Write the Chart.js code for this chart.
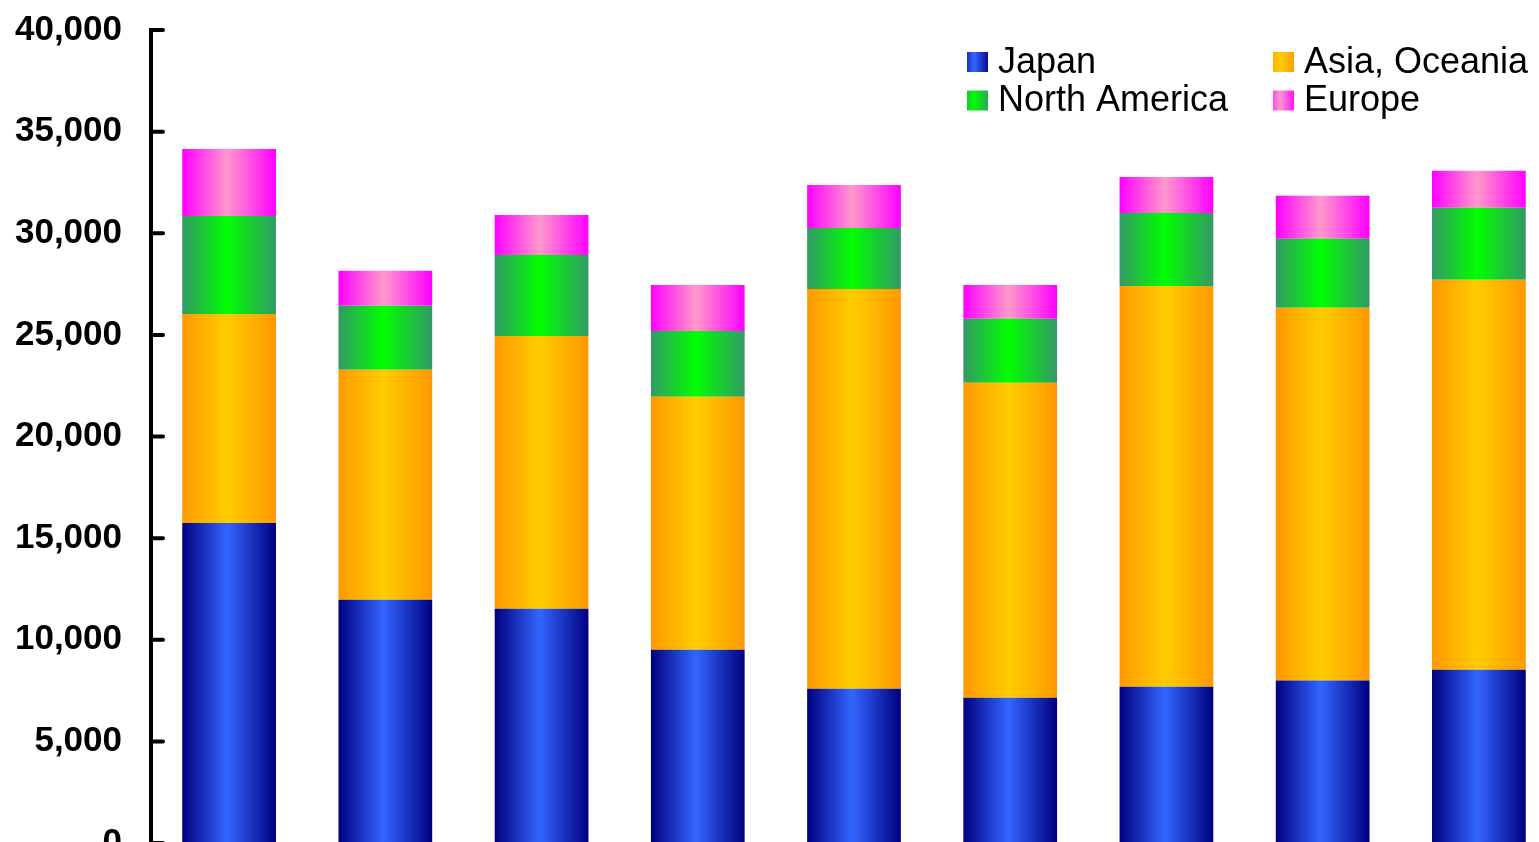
<!DOCTYPE html>
<html>
<head>
<meta charset="utf-8">
<script src="https://cdn.jsdelivr.net/npm/chart.js@4"></script>
<style>
  html, body { margin: 0; padding: 0; background: #fff; overflow: hidden; }
  #wrap { position: absolute; left: 0; top: 0; width: 1557px; height: 893px; }
</style>
</head>
<body>
<div id="wrap"><canvas id="salesChart" width="1557" height="893"></canvas></div>
<script>
const categories = ['2007', '2008', '2009', '2010', '2011', '2012', '2013', '2014', '2015'];

const japan        = [15750, 11970, 11530, 9510, 7590, 7150, 7690, 7990, 8530];
const asiaOceania  = [10280, 11310, 13420, 12440, 19670, 15490, 19720, 18340, 19180];
const northAmerica = [4820, 3150, 3985, 3245, 3000, 3150, 3590, 3395, 3540];
const europe       = [3295, 1720, 1965, 2260, 2115, 1670, 1770, 2115, 1820];

const yTicks = [0, 5000, 10000, 15000, 20000, 25000, 30000, 35000, 40000];

// edge colour, centre colour
const palette = {
  japan: ['#000080', '#3366FF'],
  asia: ['#FF9900', '#FFCC00'],
  na: ['#339966', '#00FF00'],
  europe: ['#FF00FF', '#FF99CC']
};

const BAR_PCT = 0.6;

function barGradient(ctx, colors, left, right) {
  const g = ctx.createLinearGradient(left, 0, right, 0);
  g.addColorStop(0, colors[0]);
  g.addColorStop(0.48, colors[1]);
  g.addColorStop(1, colors[0]);
  return g;
}

function fillFor(colors) {
  return (context) => {
    const chart = context.chart;
    const xs = chart.scales.x;
    if (!chart.chartArea || !xs) return colors[1];
    const cx = xs.getPixelForValue(context.dataIndex);
    const half = (xs.width / categories.length) * BAR_PCT / 2;
    return barGradient(chart.ctx, colors, cx - half, cx + half);
  };
}

// tick marks pointing into the plot
const innerTicks = {
  id: 'innerTicks',
  afterDraw(chart) {
    const ys = chart.scales.y;
    const c = chart.ctx;
    const left = chart.chartArea.left;
    c.save();
    c.strokeStyle = '#000';
    c.lineWidth = 4;
    c.lineCap = 'round';
    yTicks.forEach(v => {
      const y = ys.getPixelForValue(v);
      c.beginPath();
      c.moveTo(left, y);
      c.lineTo(left + 12, y);
      c.stroke();
    });
    c.restore();
  }
};

// two-column legend in the top right
const gridLegend = {
  id: 'gridLegend',
  afterDraw(chart) {
    const c = chart.ctx;
    const items = [
      { text: 'Japan', colors: palette.japan, x: 967, y: 62 },
      { text: 'Asia, Oceania', colors: palette.asia, x: 1273, y: 62 },
      { text: 'North America', colors: palette.na, x: 967, y: 100.5 },
      { text: 'Europe', colors: palette.europe, x: 1273, y: 100.5 }
    ];
    c.save();
    c.font = '36px "Liberation Sans", Arial, sans-serif';
    c.textBaseline = 'middle';
    items.forEach(it => {
      const w = 21, h = 20;
      const g = c.createLinearGradient(it.x - 6, 0, it.x + w + 2, 0);
      g.addColorStop(0, it.colors[0]);
      g.addColorStop(0.45, it.colors[1]);
      g.addColorStop(1, it.colors[0]);
      c.fillStyle = g;
      c.fillRect(it.x, it.y - h / 2, w, h);
      c.fillStyle = '#000';
      c.fillText(it.text, it.x + 31, it.y + 1);
    });
    c.restore();
  }
};

new Chart(document.getElementById('salesChart'), {
  type: 'bar',
  data: {
    labels: categories,
    datasets: [
      { label: 'Japan', data: japan, backgroundColor: fillFor(palette.japan) },
      { label: 'Asia, Oceania', data: asiaOceania, backgroundColor: fillFor(palette.asia) },
      { label: 'North America', data: northAmerica, backgroundColor: fillFor(palette.na) },
      { label: 'Europe', data: europe, backgroundColor: fillFor(palette.europe) }
    ]
  },
  options: {
    responsive: false,
    animation: false,
    layout: { padding: { top: 30, left: 0, right: 0, bottom: 0 } },
    datasets: {
      bar: { barPercentage: BAR_PCT, categoryPercentage: 1, borderWidth: 0 }
    },
    scales: {
      x: {
        stacked: true,
        grid: { display: false },
        border: { display: false },
        ticks: { color: '#000', font: { family: '"Liberation Sans", Arial', size: 30, weight: 'bold' } },
        afterFit: (scale) => { scale.height = 50; }
      },
      y: {
        stacked: true,
        min: 0,
        max: 40000,
        afterBuildTicks: (scale) => { scale.ticks = yTicks.map(v => ({ value: v })); },
        grid: { display: false, drawTicks: false, tickLength: 0 },
        border: { display: true, color: '#000', width: 4 },
        ticks: {
          padding: 29,
          color: '#000',
          font: { family: '"Liberation Sans", Arial', size: 35, weight: 'bold' },
          callback: (v) => v.toLocaleString('en-US')
        },
        afterFit: (scale) => {
          scale.width = 151;
          scale.paddingTop = 0;
          scale.paddingBottom = 0;
        }
      }
    },
    plugins: {
      legend: { display: false },
      tooltip: { enabled: false }
    }
  },
  plugins: [innerTicks, gridLegend]
});
</script>
</body>
</html>
